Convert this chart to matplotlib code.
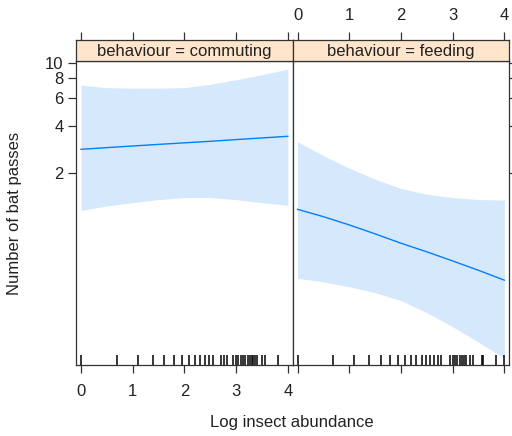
import matplotlib
matplotlib.use('Agg')
from matplotlib import pyplot as plt
from matplotlib import transforms as mtransforms

plt.rcParams['font.family'] = ['Liberation Sans', 'DejaVu Sans']
plt.rcParams['font.size'] = 12

# effect curves, read at x = 0, 0.5, ..., 4
x_grid = [0, 0.5, 1, 1.5, 2, 2.5, 3, 3.5, 4.0]
commuting_fit = [2.83, 2.90, 2.97, 3.04, 3.11, 3.18, 3.26, 3.34, 3.42]
commuting_upper = [7.2, 6.95, 6.9, 6.9, 6.95, 7.3, 7.8, 8.4, 9.1]
commuting_lower = [1.16, 1.24, 1.30, 1.36, 1.40, 1.40, 1.36, 1.30, 1.25]
feeding_fit = [1.18, 1.06, 0.94, 0.825, 0.72, 0.635, 0.556, 0.485, 0.42]
feeding_upper = [3.16, 2.58, 2.15, 1.83, 1.60, 1.47, 1.40, 1.36, 1.35]
feeding_lower = [0.432, 0.41, 0.382, 0.35, 0.312, 0.262, 0.213, 0.17, 0.135]

# rug (observed log insect abundance)
commuting_rug = [0, 0.69, 1.10, 1.39, 1.61, 1.79, 1.95, 2.08, 2.20, 2.30, 2.40, 2.48,
                 2.56, 2.71, 2.77, 2.83, 2.94, 3.00, 3.04, 3.09, 3.14, 3.18, 3.22,
                 3.26, 3.30, 3.33, 3.37, 3.40, 3.50, 3.56, 3.81]
feeding_rug = [0, 0.69, 1.10, 1.39, 1.61, 1.79, 1.95, 2.08, 2.20, 2.30, 2.40, 2.48,
               2.56, 2.64, 2.71, 2.77, 2.94, 3.00, 3.04, 3.09, 3.14, 3.18, 3.22,
               3.26, 3.33, 3.40, 3.56, 3.58, 3.83, 4.0]

panels = [
    ('commuting', commuting_fit, commuting_upper, commuting_lower, commuting_rug),
    ('feeding', feeding_fit, feeding_upper, feeding_lower, feeding_rug),
]

x_ticks = [0, 1, 2, 3, 4]
y_ticks = [2, 4, 6, 8, 10]
xlim = (-0.097, 4.09)
ylim = (0.122, 10.25)

W, H = 512, 436
fig = plt.figure(figsize=(W / 100, H / 100), dpi=100)

band_col = '#d6e8fc'
line_col = '#0080ff'
frame_col = '#333333'

for i, (name, fit, up, lo, rug) in enumerate(panels):
    left = 76 + i * 216.5
    ax = fig.add_axes([left / W, (H - 365) / H, 216.5 / W, 304 / H])
    ax.fill_between(x_grid, lo, up, color=band_col, lw=0)
    ax.plot(x_grid, fit, color=line_col, lw=1)
    trans = mtransforms.blended_transform_factory(ax.transData, ax.transAxes)
    ax.vlines(rug, 0, 0.034, transform=trans, color='black', lw=1.1)
    ax.set_yscale('log')
    ax.set_xlim(*xlim)
    ax.set_ylim(*ylim)
    ax.set_xticks(x_ticks)
    ax.set_yticks(y_ticks)
    ax.yaxis.set_minor_locator(plt.NullLocator())
    ax.tick_params(axis='both', which='both', direction='out', length=6,
                   width=0.9, color=frame_col, labelcolor='#222222', top=False)
    ax.tick_params(axis='x', pad=8)
    ax.tick_params(axis='y', pad=3)
    if i == 0:
        ax.set_xticklabels([str(t) for t in x_ticks])
        ax.set_yticklabels([str(t) for t in y_ticks])
        ax.tick_params(axis='y', right=False)
    else:
        ax.set_xticklabels([])
        ax.set_yticklabels([])
        ax.tick_params(axis='y', left=False, right=True)
    for s in ax.spines.values():
        s.set_color(frame_col)
        s.set_linewidth(0.9)

    # strip with top axis
    sax = fig.add_axes([left / W, (H - 61) / H, 216.5 / W, 21 / H])
    sax.set_facecolor('#ffe5cc')
    sax.set_xlim(*xlim)
    sax.set_yticks([])
    sax.set_xticks(x_ticks)
    sax.tick_params(axis='x', bottom=False, top=True, labelbottom=False,
                    labeltop=(i == 1), direction='out', length=6,
                    width=0.9, color=frame_col, labelcolor='#222222', pad=6)
    for s in sax.spines.values():
        s.set_color(frame_col)
        s.set_linewidth(0.9)
    sax.text(0.5, 0.45, 'behaviour = ' + name, transform=sax.transAxes,
             ha='center', va='center', color='#222222')

fig.text(292 / W, 1 - 422 / H, 'Log insect abundance', ha='center', va='center',
         color='#222222')
fig.text(15 / W, 1 - 213 / H, 'Number of bat passes', ha='center', va='center',
         rotation=90, color='#222222')

fig.savefig('out.png', dpi=100)
